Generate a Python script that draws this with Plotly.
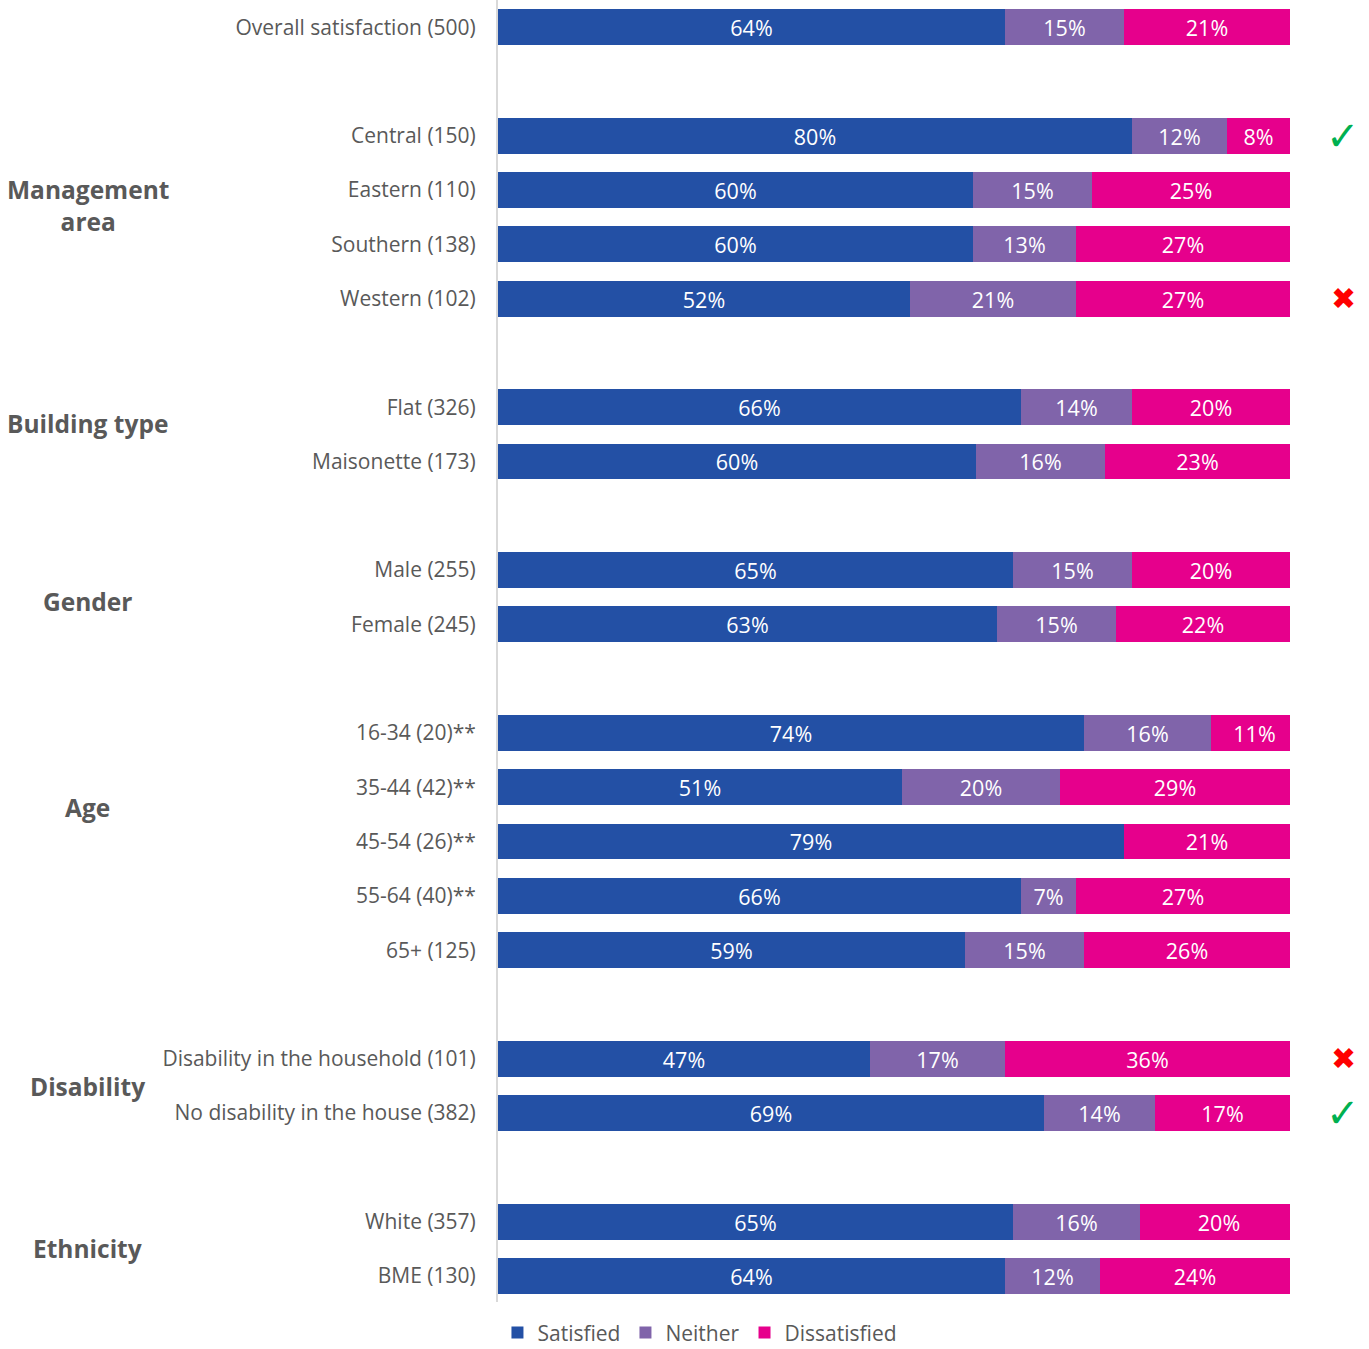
import plotly.graph_objects as go

# rows (position index leaves blank rows between groups)
labels = [
    "Overall satisfaction (500)",
    "Central (150)", "Eastern (110)", "Southern (138)", "Western (102)",
    "Flat (326)", "Maisonette (173)",
    "Male (255)", "Female (245)",
    "16-34 (20)**", "35-44 (42)**", "45-54 (26)**", "55-64 (40)**", "65+ (125)",
    "Disability in the household (101)", "No disability in the house (382)",
    "White (357)", "BME (130)",
]
rows = [0, 2, 3, 4, 5, 7, 8, 10, 11, 13, 14, 15, 16, 17, 19, 20, 22, 23]

satisfied = [64, 80, 60, 60, 52, 66, 60.4, 65, 63, 74, 51, 79, 66, 59, 47, 69, 65, 64]
neither = [15, 12, 15, 13, 21, 14, 16.3, 15, 15, 16, 20, 0, 7, 15, 17, 14, 16, 12]
dissatisfied = [21, 8, 25, 27, 27, 20, 23.3, 20, 22, 11, 29, 21, 27, 26, 36, 17, 20, 24]

groups = [("Management<br>area", 3.28), ("Building type", 7.3), ("Gender", 10.57),
          ("Age", 14.37), ("Disability", 19.52), ("Ethnicity", 22.49)]

# green tick / red cross markers beside selected rows
icons = [(2, "✓", "#00B050"), (5, "✖", "#FF0000"),
         (19, "✖", "#FF0000"), (20, "✓", "#00B050")]

series = [
    ("Satisfied", satisfied, "#2350A5"),
    ("Neither", neither, "#8064AA"),
    ("Dissatisfied", dissatisfied, "#E6008C"),
]

FONT = "Open Sans, sans-serif"
GREY = "#595959"

fig = go.Figure()
for name, vals, color in series:
    fig.add_trace(go.Bar(
        y=rows,
        x=vals,
        name=name,
        orientation="h",
        marker=dict(color=color, line=dict(width=0)),
        width=0.66,
        text=[f"{v:.0f}%" if v > 0 else "" for v in vals],
        textposition="inside",
        insidetextanchor="middle",
        textfont=dict(color="white", size=21.5, family=FONT),
        hoverinfo="skip",
    ))

annotations = []
for text, y in groups:
    annotations.append(dict(
        x=-0.518, xref="paper", y=y, yref="y", text=f"<b>{text}</b>",
        showarrow=False, xanchor="center", yanchor="middle",
        font=dict(size=24.5, color=GREY, family=FONT),
    ))
for r, sym, color in icons:
    annotations.append(dict(
        x=1.067, xref="paper", y=r, yref="y", text=sym,
        showarrow=False, xanchor="center", yanchor="middle",
        font=dict(size=40 if sym == "✓" else 30, color=color, family="DejaVu Sans"),
    ))

fig.update_layout(
    barmode="stack",
    width=1369,
    height=1349,
    margin=dict(l=498, r=79, t=0, b=47),
    plot_bgcolor="white",
    paper_bgcolor="white",
    font=dict(family=FONT, color=GREY, size=21),
    bargap=0,
    xaxis=dict(range=[0, 100], visible=False, fixedrange=True),
    yaxis=dict(
        range=[23.48, -0.5],
        tickmode="array",
        tickvals=rows,
        ticktext=labels,
        showgrid=False,
        zeroline=False,
        showline=True,
        linecolor="#D9D9D9",
        linewidth=2,
        ticks="",
        ticklabelstandoff=16,
        tickfont=dict(size=21, color=GREY, family=FONT),
        fixedrange=True,
    ),
    legend=dict(
        orientation="h",
        x=0.255, xanchor="center",
        yref="container",
        y=0.012, yanchor="middle",
        font=dict(size=21, color=GREY, family=FONT),
        itemclick=False,
        traceorder="normal",
    ),
    annotations=annotations,
)

# the page body has a default 8px margin; drop it so the figure sits at 0,0
fig.write_html("out.html", config={"displayModeBar": False},
               post_script="document.body.style.margin='0';")
